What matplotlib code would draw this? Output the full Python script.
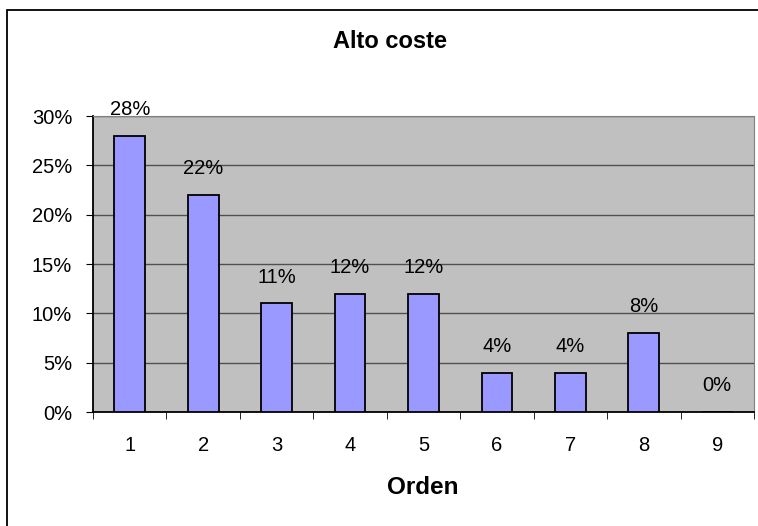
import matplotlib.pyplot as plt
import numpy as np

plt.rcParams['font.family'] = ['Liberation Sans', 'DejaVu Sans']

categories = ['1', '2', '3', '4', '5', '6', '7', '8', '9']
values = [28, 22, 11, 12, 12, 4, 4, 8, 0]
yticks = [0, 5, 10, 15, 20, 25, 30]

fig = plt.figure(figsize=(7.58, 5.26), dpi=100)
# outer chart frame (right and bottom edges fall outside the image)
fig.patches.append(plt.Rectangle((7 / 758, -10 / 526), 770 / 758, 526 / 526,
                                 transform=fig.transFigure, fill=False,
                                 edgecolor='black', linewidth=1.3))

ax = fig.add_axes([93 / 758, 1 - 412 / 526, 661 / 758, 296 / 526])
ax.set_facecolor('#C0C0C0')

x = np.arange(len(categories))
ax.bar(x, values, width=0.42, color='#9999FF', edgecolor='black', linewidth=1.3, zorder=3)

for xi, v in zip(x, values):
    ax.annotate(f'{v}%', (xi, v), xytext=(0, 19), textcoords='offset points',
                ha='center', va='center', fontsize=14.5)

ax.set_xlim(-0.5, len(categories) - 0.5)
ax.set_ylim(0, 30)
ax.set_yticks(yticks)
ax.set_yticklabels([f'{t}%' for t in yticks], fontsize=14.5)
ax.yaxis.grid(True, color='#505050', linewidth=1.0, zorder=0)
ax.set_axisbelow(True)

ax.set_xticks(x)
ax.set_xticklabels(categories, fontsize=14.5)
ax.tick_params(axis='x', length=0, pad=17)
ax.set_xticks(np.arange(-0.5, len(categories)), minor=True)
ax.tick_params(axis='x', which='minor', length=5, direction='out', color='black')
ax.tick_params(axis='y', length=5, direction='out', pad=10)

for s in ['top', 'right']:
    ax.spines[s].set_color('#808080')
for s in ['left', 'bottom']:
    ax.spines[s].set_color('black')
    ax.spines[s].set_linewidth(1.3)

fig.text(423 / 758, 1 - 488 / 526, 'Orden', ha='center', va='center',
         fontsize=17.5, fontweight='bold')
fig.text(390 / 758, 1 - 42 / 526, 'Alto coste', ha='center', va='center',
         fontsize=17, fontweight='bold')

fig.savefig('out.png', dpi=100)
